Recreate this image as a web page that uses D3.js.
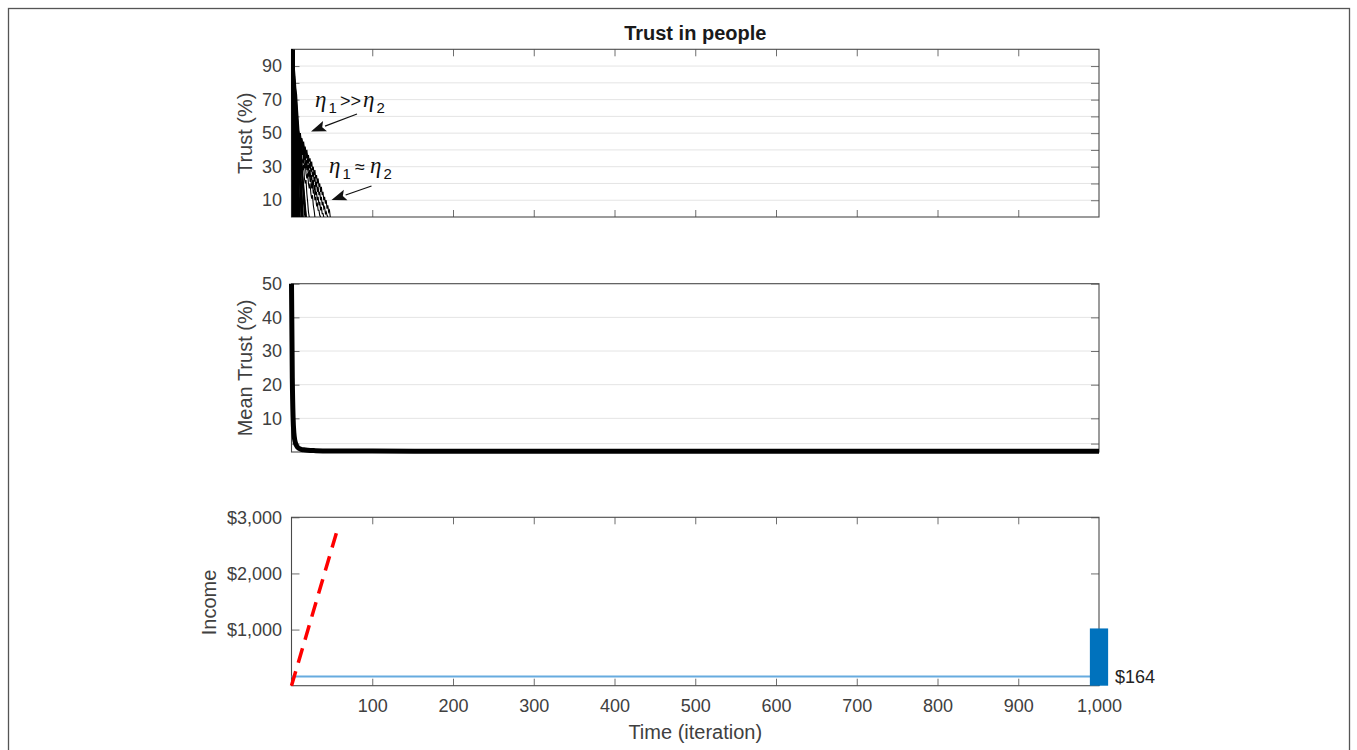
<!DOCTYPE html>
<html><head><meta charset="utf-8">
<script src="https://cdn.jsdelivr.net/npm/d3@7"></script>
<style>body{margin:0;background:#fff}svg{display:block}</style>
</head><body>
<svg id="chart" width="1357" height="750"></svg>
<script>
// ---------------- DATA ----------------
const titleText = "Trust in people";
const xTickValues = [100, 200, 300, 400, 500, 600, 700, 800, 900, 1000];
const trustTickValues = [10, 20, 30, 40, 50, 60, 70, 80, 90];
const trustTickLabels = [10, 30, 50, 70, 90];
const meanTickValues = [2.5, 10, 20, 30, 40, 50];
const meanTickLabels = [10, 20, 30, 40, 50];
const incomeTickValues = [1000, 2000, 3000];

// individual trust trajectories (value per iteration, starting at iteration 0)
const trustFast = [
  [100, 58, 21, 0],
  [100, 72, 40, 9, 0],
  [100, 86, 61, 33, 6, 0],
  [100, 93, 79, 64, 45, 23, 0],
  [100, 97, 88, 76, 69, 55, 38, 17, 0],
  [100, 95, 84, 74, 66, 57, 51, 40, 26, 11, 0],
  [100, 91, 77, 70, 62, 53, 48, 44, 35, 22, 0],
  [100, 99, 94, 87, 80, 74, 68, 60, 53, 47, 36, 20, 4, 0],
  [100, 35, 0],
  [100, 66, 48, 27, 12, 0],
  [100, 98, 90, 83, 72, 63, 58, 52, 49, 41, 30, 18, 0],
  [100, 80, 52, 43, 30, 17, 0],
  [100, 99, 96, 90, 84, 77, 73, 65, 58, 51, 46, 41, 33, 27, 19, 10, 3, 0],
  [100, 97, 92, 85, 79, 71, 64, 57, 50, 44, 38, 29, 21, 12, 0],
  [100, 88, 70, 55, 47, 38, 29, 20, 11, 2, 0],
  [100, 96, 86, 78, 68, 60, 50, 46, 39, 32, 26, 19, 14, 7, 0],
  [100, 94, 81, 72, 60, 52, 47, 41, 35, 30, 24, 17, 9, 0],
  [100, 99, 93, 85, 78, 72, 66, 58, 52, 48, 43, 38, 32, 26, 20, 15, 9, 4, 0],
  [100, 76, 58, 44, 36, 24, 13, 0],
  [100, 92, 74, 59, 50, 44, 37, 28, 16, 5, 0],
  [100, 98, 89, 80, 75, 67, 59, 54, 49, 45, 42, 37, 34, 28, 23, 18, 12, 6, 0],
  [100, 90, 68, 50, 38, 27, 18, 8, 0]
];
const trustSlow = [
  [100, 96, 90, 83, 76, 70, 63, 57, 53, 51, 48, 50, 45, 47, 42, 45, 40, 42, 37, 40, 35, 37, 33, 35, 30, 33, 28, 30, 25, 28, 23, 25, 20, 23, 18, 20, 15, 18, 13, 15, 10, 12, 8, 10, 5, 7, 3, 4, 0],
  [100, 95, 88, 80, 73, 66, 60, 55, 52, 49, 46, 49, 43, 46, 40, 43, 37, 40, 35, 38, 32, 35, 29, 32, 27, 29, 24, 27, 21, 24, 18, 21, 15, 18, 13, 15, 10, 12, 7, 9, 5, 6, 2, 3, 1, 0],
  [100, 94, 86, 78, 70, 64, 58, 53, 50, 46, 43, 46, 40, 43, 37, 40, 34, 37, 31, 34, 28, 31, 25, 28, 22, 25, 19, 22, 16, 19, 13, 15, 10, 12, 7, 9, 4, 6, 2, 2, 0],
  [100, 93, 84, 75, 67, 60, 55, 51, 47, 44, 46, 40, 43, 37, 40, 34, 37, 31, 33, 28, 30, 24, 27, 21, 23, 17, 20, 14, 16, 10, 12, 7, 8, 4, 4, 1, 0],
  [100, 92, 82, 72, 64, 57, 52, 48, 44, 41, 44, 38, 41, 35, 32, 35, 29, 32, 26, 23, 26, 20, 17, 20, 14, 11, 13, 7, 4, 0],
  [100, 90, 80, 70, 61, 54, 49, 45, 41, 43, 37, 35, 38, 31, 28, 31, 23, 20, 22, 14, 9, 3, 0]
];

const meanIter = [0, 1, 2, 3, 4, 5, 6, 7, 8, 10, 12, 15, 20, 30, 50, 100, 200, 400, 700, 1000];
const meanVal  = [50, 22, 10, 5.5, 3.6, 2.6, 2.0, 1.6, 1.3, 1.0, 0.8, 0.65, 0.5, 0.4, 0.32, 0.28, 0.25, 0.25, 0.25, 0.25];

const incomeIter = [0, 1000];
const incomeVal  = [164, 164];
const targetIter = [0, 57];
const targetVal  = [0, 2790];
const barIter = [1000];
const barVal  = [1020];
const finalIncomeLabel = "$164";

// ---------------- LAYOUT ----------------
const svg = d3.select("#chart");
const L = 291.5, R = 1099;
const panels = {
  top: [49.3, 217],
  mid: [283.7, 452],
  bot: [517.3, 685.7]
};
const FONT = "'Liberation Sans', Arial, Helvetica, sans-serif";
const SERIF = "'Liberation Serif', 'DejaVu Serif', serif";
const frameColor = "#4a4a4a", tickColor = "#6e6e6e", gridColor = "#e4e4e4", textColor = "#404040";

const x = d3.scaleLinear().domain([0, 1000]).range([L, R]);
const yTop = d3.scaleLinear().domain([0, 100]).range([panels.top[1], panels.top[0]]);
const yMid = d3.scaleLinear().domain([0, 50]).range([panels.mid[1], panels.mid[0]]);
const yBot = d3.scaleLinear().domain([0, 3000]).range([panels.bot[1], panels.bot[0]]);

// outer border
svg.append("rect").attr("x", 8.5).attr("y", 8.5).attr("width", 1341).attr("height", 760)
  .attr("fill", "none").attr("stroke", "#555").attr("stroke-width", 1.3);

function styleAxis(g) {
  g.select(".domain").remove();
  g.selectAll(".tick line").attr("stroke", tickColor).attr("stroke-width", 1);
  g.selectAll(".tick text").attr("fill", textColor).attr("font-size", 18).attr("font-family", FONT);
}

function grid(yScale, vals) {
  svg.append("g").selectAll("line").data(vals).join("line")
    .attr("x1", L).attr("x2", R)
    .attr("y1", d => yScale(d)).attr("y2", d => yScale(d))
    .attr("stroke", gridColor).attr("stroke-width", 1);
}

function frame(p) {
  svg.append("rect").attr("x", L).attr("y", p[0]).attr("width", R - L).attr("height", p[1] - p[0])
    .attr("fill", "none").attr("stroke", frameColor).attr("stroke-width", 1.1);
}

const YPAD = 9.5;

// ---- TOP PANEL ----
grid(yTop, trustTickValues);
svg.append("g").attr("transform", `translate(${L},0)`)
  .call(d3.axisLeft(yTop).tickValues(trustTickValues).tickSize(-8).tickPadding(YPAD)
    .tickFormat(d => trustTickLabels.includes(d) ? d : ""))
  .call(styleAxis);
svg.append("g").attr("transform", `translate(${R},0)`)
  .call(d3.axisRight(yTop).tickValues(trustTickValues).tickSize(-8).tickFormat(""))
  .call(styleAxis);
svg.append("g").attr("transform", `translate(0,${panels.top[1]})`)
  .call(d3.axisBottom(x).tickValues(xTickValues.slice(0, -1)).tickSize(-7).tickFormat(""))
  .call(styleAxis);
svg.append("g").attr("transform", `translate(0,${panels.top[0]})`)
  .call(d3.axisTop(x).tickValues(xTickValues.slice(0, -1)).tickSize(-7).tickFormat(""))
  .call(styleAxis);
frame(panels.top);

svg.append("clipPath").attr("id", "clipTop").append("rect")
  .attr("x", L).attr("y", panels.top[0]).attr("width", R - L).attr("height", panels.top[1] - panels.top[0]);
const trustLine = d3.line().x((d, i) => x(i)).y(d => yTop(d));
const tg = svg.append("g").attr("clip-path", "url(#clipTop)");
tg.selectAll("path.fast").data(trustFast).join("path").attr("class", "fast")
  .attr("d", trustLine).attr("fill", "none").attr("stroke", "#000").attr("stroke-width", 1.6);
tg.selectAll("path.slow").data(trustSlow).join("path").attr("class", "slow")
  .attr("d", trustLine).attr("fill", "none").attr("stroke", "#000").attr("stroke-width", 1.1);
// iteration-0 column of the dense bundle
tg.append("line").attr("x1", x(0) + 1.5).attr("x2", x(0) + 1.5)
  .attr("y1", yTop(100)).attr("y2", yTop(0)).attr("stroke", "#000").attr("stroke-width", 4);

// annotations
function etaLabel(xp, yb, op, opX, eta2X) {
  const g = svg.append("g").attr("fill", "#111");
  g.append("text").attr("x", xp).attr("y", yb).attr("font-family", SERIF)
    .attr("font-style", "italic").attr("font-size", 23).text("η");
  g.append("text").attr("x", xp + 13.5).attr("y", yb + 6).attr("font-family", FONT).attr("font-size", 15).text("1");
  g.append("text").attr("x", xp + opX).attr("y", yb).attr("font-family", FONT).attr("font-size", 18).text(op);
  g.append("text").attr("x", xp + eta2X).attr("y", yb).attr("font-family", SERIF)
    .attr("font-style", "italic").attr("font-size", 23).text("η");
  g.append("text").attr("x", xp + eta2X + 13.5).attr("y", yb + 6).attr("font-family", FONT).attr("font-size", 15).text("2");
}
function arrow(x1, y1, x2, y2) {
  const ang = Math.atan2(y2 - y1, x2 - x1);
  const len = 15, w = 5.5;
  const bx = x2 - len * Math.cos(ang), by = y2 - len * Math.sin(ang);
  svg.append("line").attr("x1", x1).attr("y1", y1).attr("x2", bx).attr("y2", by)
    .attr("stroke", "#111").attr("stroke-width", 1.2);
  const px = -Math.sin(ang) * w, py = Math.cos(ang) * w;
  svg.append("polygon")
    .attr("points", `${x2},${y2} ${bx + px},${by + py} ${bx + 3 * Math.cos(ang)},${by + 3 * Math.sin(ang)} ${bx - px},${by - py}`)
    .attr("fill", "#111");
}
etaLabel(315, 107, ">>", 25, 48);
arrow(357, 114, 311, 131.5);
etaLabel(329, 173, "≈", 26, 41);
arrow(371.5, 186, 331.5, 200);

// ---- MIDDLE PANEL ----
grid(yMid, meanTickValues.filter(d => d < 50));
svg.append("g").attr("transform", `translate(${L},0)`)
  .call(d3.axisLeft(yMid).tickValues(meanTickValues).tickSize(-8).tickPadding(YPAD)
    .tickFormat(d => meanTickLabels.includes(d) ? d : ""))
  .call(styleAxis);
svg.append("g").attr("transform", `translate(${R},0)`)
  .call(d3.axisRight(yMid).tickValues(meanTickValues).tickSize(-8).tickFormat(""))
  .call(styleAxis);
frame(panels.mid);
const meanData = meanIter.map((d, i) => [d, meanVal[i]]);
svg.append("path").datum(meanData)
  .attr("d", d3.line().x(d => x(d[0])).y(d => yMid(d[1])).curve(d3.curveMonotoneX))
  .attr("fill", "none").attr("stroke", "#000").attr("stroke-width", 5).attr("stroke-linejoin", "round");

// ---- BOTTOM PANEL ----
svg.append("g").attr("transform", `translate(${L},0)`)
  .call(d3.axisLeft(yBot).tickValues(incomeTickValues).tickSize(-8).tickPadding(YPAD)
    .tickFormat(d => "$" + d3.format(",")(d)))
  .call(styleAxis);
svg.append("g").attr("transform", `translate(${R},0)`)
  .call(d3.axisRight(yBot).tickValues(incomeTickValues).tickSize(-8).tickFormat(""))
  .call(styleAxis);
svg.append("g").attr("transform", `translate(0,${panels.bot[1]})`)
  .call(d3.axisBottom(x).tickValues(xTickValues).tickSize(-7).tickPadding(14).tickFormat(d3.format(",")))
  .call(styleAxis);
svg.append("g").attr("transform", `translate(0,${panels.bot[0]})`)
  .call(d3.axisTop(x).tickValues(xTickValues.slice(0, -1)).tickSize(-7).tickFormat(""))
  .call(styleAxis);
frame(panels.bot);

const incLine = d3.line().x(d => x(d[0])).y(d => yBot(d[1]));
svg.append("path").datum(incomeIter.map((d, i) => [d, incomeVal[i]]))
  .attr("d", incLine).attr("fill", "none").attr("stroke", "#67ABDF").attr("stroke-width", 1.8);
svg.append("path").datum(targetIter.map((d, i) => [d, targetVal[i]]))
  .attr("d", incLine).attr("fill", "none").attr("stroke", "#FF0000").attr("stroke-width", 3.5)
  .attr("stroke-dasharray", "15,9");
const barHalf = 11.3;
svg.append("g").selectAll("rect").data(barIter.map((d, i) => [d, barVal[i]])).join("rect")
  .attr("x", d => x(d[0] - barHalf)).attr("width", d => x(d[0] + barHalf) - x(d[0] - barHalf))
  .attr("y", d => yBot(d[1])).attr("height", d => yBot(0) - yBot(d[1]))
  .attr("fill", "#0072BD");
svg.append("text").attr("x", 1115).attr("y", yBot(incomeVal[1])).attr("dy", "0.36em")
  .attr("font-family", FONT).attr("font-size", 18).attr("fill", "#222").text(finalIncomeLabel);

// ---- TEXT LABELS ----
svg.append("text").attr("x", (L + R) / 2).attr("y", 40).attr("text-anchor", "middle")
  .attr("font-family", FONT).attr("font-weight", "bold").attr("font-size", 20).attr("fill", "#1a1a1a")
  .text(titleText);
function ylab(t, xb, yc) {
  svg.append("text").attr("transform", `translate(${xb},${yc}) rotate(-90)`).attr("text-anchor", "middle")
    .attr("font-family", FONT).attr("font-size", 20).attr("fill", textColor).text(t);
}
ylab("Trust (%)", 251.5, 133.3);
ylab("Mean Trust (%)", 251.5, 368);
ylab("Income", 215.5, 602.5);
svg.append("text").attr("x", (L + R) / 2).attr("y", 739).attr("text-anchor", "middle")
  .attr("font-family", FONT).attr("font-size", 20).attr("fill", textColor).text("Time (iteration)");
</script>
</body></html>
